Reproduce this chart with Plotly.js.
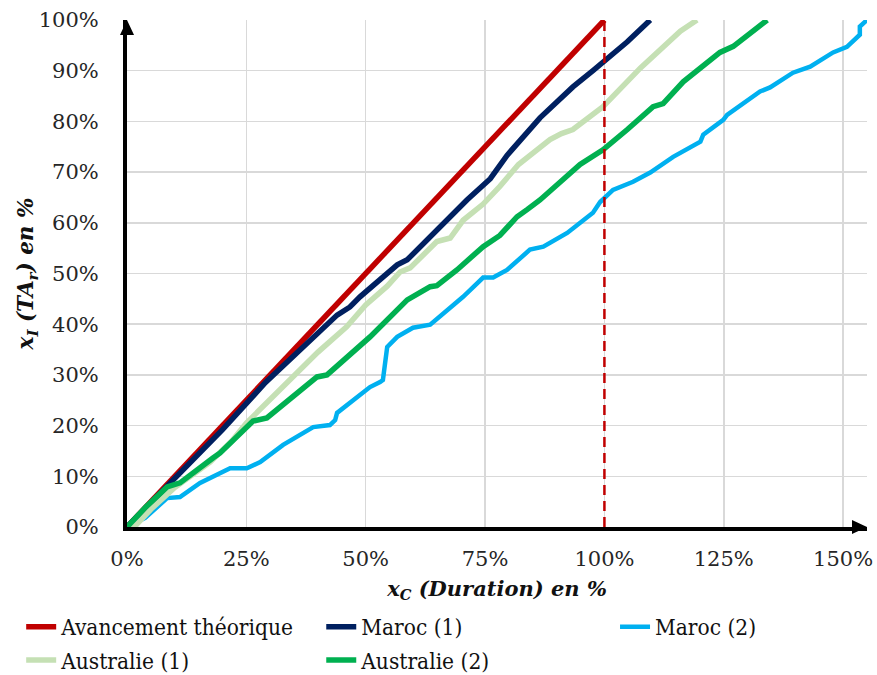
<!DOCTYPE html>
<html>
<head>
<meta charset="utf-8">
<script src="https://cdn.plot.ly/plotly-3.0.1.min.js"></script>
<style>html,body{margin:0;padding:0;background:#fff;}#chart{width:877px;height:675px;}</style>
</head>
<body>
<div id="chart"></div>
<script>
// Series names
const seriesNames = ["Avancement théorique", "Maroc (1)", "Maroc (2)", "Australie (1)", "Australie (2)"];

// Avancement théorique (x = y)
const xTheo = [0, 100];
const yTheo = [0, 100];

// Maroc (1)
const xMaroc1 = [0, 5, 10, 20, 29, 37.7, 41.1, 44, 46.7, 48.8, 53.6, 56.6, 58.7, 64.9, 71.2, 76.1, 79.6, 86.5, 93.4, 97.6, 100, 104.8, 109.6];
const yMaroc1 = [0, 4.8, 9.6, 19.2, 28.5, 36.3, 39.5, 41.8, 43.4, 45.4, 49.3, 51.7, 52.7, 58.6, 64.5, 68.7, 73.3, 80.7, 86.8, 90, 91.8, 95.7, 100];

// Maroc (2)
const xMaroc2 = [0, 3.8, 8.4, 11.1, 15.3, 21.6, 25.1, 27.9, 32.7, 39.0, 42.5, 43.6, 44.0, 50.9, 53.0, 53.6, 54.5, 56.6, 59.9, 63.5, 70.4, 74.6, 76.7, 79.6, 84.4, 87.2, 92.2, 97.6, 99.1, 101.8, 106.0, 109.6, 114.4, 120.1, 120.7, 124.9, 125.7, 129.1, 132.6, 134.7, 139.5, 143.1, 147.9, 150.8, 153.5, 153.5, 155];
const yMaroc2 = [0, 1.8, 5.7, 5.9, 8.7, 11.6, 11.6, 12.8, 16.2, 19.7, 20.1, 21.1, 22.5, 27.6, 28.6, 29.0, 35.5, 37.5, 39.3, 39.9, 45.4, 49.2, 49.2, 50.7, 54.7, 55.3, 58.0, 62.0, 64.1, 66.5, 68.1, 69.9, 73.0, 76.0, 77.4, 80.3, 81.3, 83.7, 85.9, 86.7, 89.6, 90.8, 93.6, 94.7, 97.1, 98.7, 100];

// Australie (1)
const xAus1 = [0, 2, 5, 10, 17.4, 22, 25, 28.5, 34.2, 40, 46, 50, 54.5, 57.2, 59.3, 64.9, 67.7, 70.4, 74.6, 78.1, 82, 88.6, 91, 93.4, 99.7, 107.5, 115.9, 119.4];
const yAus1 = [0, 0.5, 3.5, 7.8, 12.8, 17, 20.5, 23.7, 29.0, 34.5, 39.5, 43.8, 47.5, 50.3, 51.1, 56.3, 57.0, 60.5, 63.7, 67.2, 71.5, 76.4, 77.6, 78.4, 82.9, 90.5, 97.8, 100];

// Australie (2)
const xAus2 = [0, 4, 8.4, 11.1, 18, 19.5, 26.4, 29.3, 39.8, 41.9, 50.9, 58.7, 63.5, 64.9, 69.1, 74.6, 78.1, 81.7, 83.8, 86.5, 94.9, 99.7, 104.8, 110.2, 112.3, 116.5, 124.2, 127, 134.1];
const yAus2 = [0, 4, 7.9, 8.7, 13.6, 14.6, 20.9, 21.5, 29.6, 30.0, 37.5, 44.8, 47.4, 47.6, 50.7, 55.3, 57.5, 61.2, 62.6, 64.5, 71.5, 74.4, 78.4, 82.9, 83.5, 87.8, 93.6, 94.8, 100];

// Reference line position (100 % duration)
const refX = 100;

const colors = ["#C00000", "#002060", "#00B0F0", "#C5E0B4", "#00B050"];
const widths = [5.5, 5.5, 4.5, 5.5, 5.5];
const legendOf = ["legend", "legend2", "legend3", "legend", "legend2"];

const xs = [xTheo, xMaroc1, xMaroc2, xAus1, xAus2];
const ys = [yTheo, yMaroc1, yMaroc2, yAus1, yAus2];

const traces = xs.map((x, i) => ({
  type: "scatter", mode: "lines", x: x, y: ys[i], name: seriesNames[i],
  line: {color: colors[i], width: widths[i]},
  legend: legendOf[i], legendgroup: "g" + i, hoverinfo: "skip"
}));

const legFont = {family: "DejaVu Serif Condensed, DejaVu Serif", size: 22.5, color: "#111"};
const legCommon = {orientation: "v", yanchor: "top", xanchor: "left", bgcolor: "rgba(0,0,0,0)",
  font: legFont, traceorder: "grouped", tracegroupgap: 1, y: -0.155};

const layout = {
  width: 877, height: 675,
  margin: {l: 127, r: 10, t: 20, b: 148, autoexpand: false},
  paper_bgcolor: "#fff", plot_bgcolor: "#fff",
  showlegend: true,
  legend: Object.assign({}, legCommon, {x: -0.143}),
  legend2: Object.assign({}, legCommon, {x: 0.2625}),
  legend3: Object.assign({}, legCommon, {x: 0.6595}),
  xaxis: {
    range: [0, 155], dtick: 25, tick0: 0, ticksuffix: "%",
    showgrid: true, gridcolor: "#D9D9D9", gridwidth: 1.5, zeroline: false,
    showline: true, linecolor: "#000", linewidth: 4, ticks: "",
    ticklabelstandoff: 10, automargin: false,
    tickfont: {family: "DejaVu Serif", size: 21, color: "#262626"},
    title: {text: "<b><i>x<sub>C</sub> (Duration) en %</i></b>", standoff: 12,
      font: {family: "DejaVu Serif", size: 21, color: "#111"}},
    fixedrange: true
  },
  yaxis: {
    range: [0, 100], dtick: 10, tick0: 0, ticksuffix: "%",
    showgrid: true, gridcolor: "#D9D9D9", gridwidth: 1.5, zeroline: false,
    showline: true, linecolor: "#000", linewidth: 4, ticks: "",
    ticklabelstandoff: 20, automargin: false,
    tickfont: {family: "DejaVu Serif", size: 21, color: "#262626"},
    title: {text: "<b><i>x<sub>I</sub> (TA<sub>r</sub>) en %</i></b>", standoff: 0,
      font: {family: "DejaVu Serif", size: 21.5, color: "#111"}},
    fixedrange: true
  },
  shapes: [
    {type: "line", xref: "x", yref: "y", x0: refX, x1: refX, y0: 0, y1: 100,
      line: {color: "#C00000", width: 2.5, dash: "10px,6px"}},
    {type: "path", xref: "paper", yref: "paper", xsizemode: "pixel", ysizemode: "pixel",
      xanchor: 1, yanchor: 0, path: "M-15,-7 L0,0 L-15,7 Z", fillcolor: "#000", line: {width: 0}},
    {type: "path", xref: "paper", yref: "paper", xsizemode: "pixel", ysizemode: "pixel",
      xanchor: 0, yanchor: 1, path: "M-7,-15 L0,0 L7,-15 Z", fillcolor: "#000", line: {width: 0}}
  ]
};

Plotly.newPlot("chart", traces, layout, {displayModeBar: false, staticPlot: true});
</script>
</body>
</html>
